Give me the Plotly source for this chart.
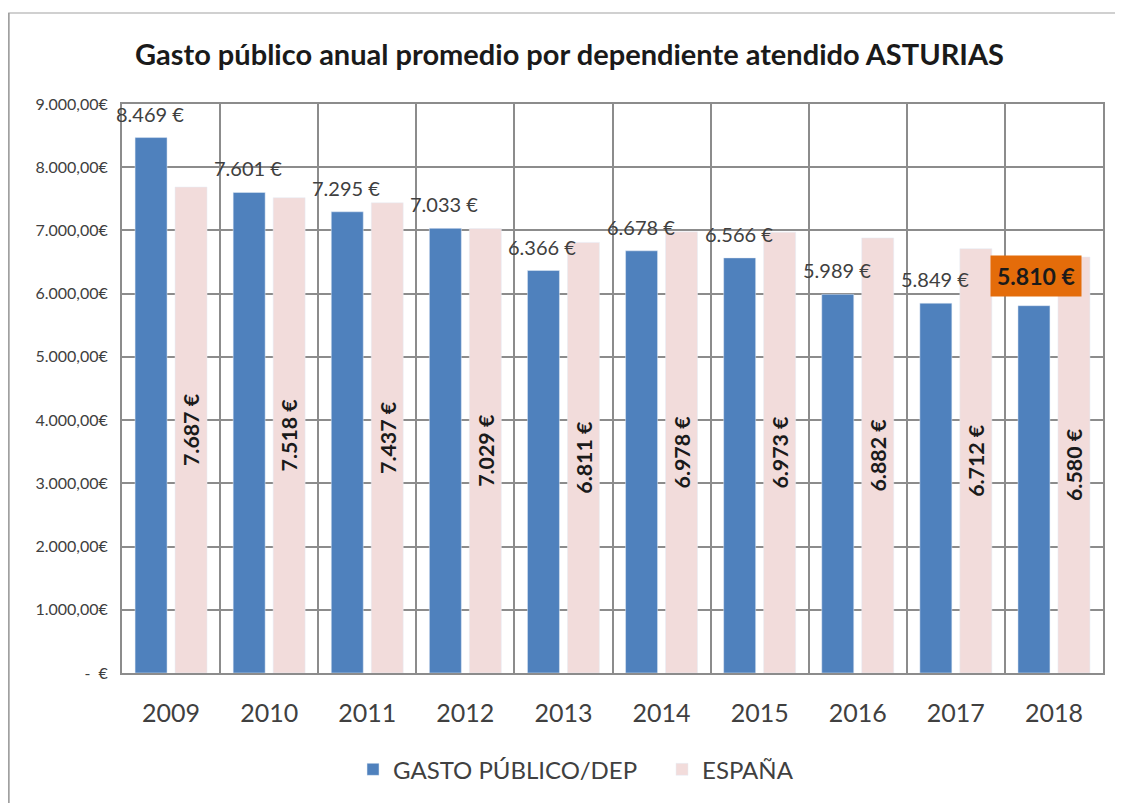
import plotly.graph_objects as go

years = ["2009", "2010", "2011", "2012", "2013", "2014", "2015", "2016", "2017", "2018"]
gasto = [8469, 7601, 7295, 7033, 6366, 6678, 6566, 5989, 5849, 5810]
espana = [7687, 7518, 7437, 7029, 6811, 6978, 6973, 6882, 6712, 6580]
gasto_labels = ["8.469 €", "7.601 €", "7.295 €", "7.033 €", "6.366 €", "6.678 €", "6.566 €", "5.989 €", "5.849 €", "5.810 €"]
espana_labels = ["7.687 €", "7.518 €", "7.437 €", "7.029 €", "6.811 €", "6.978 €", "6.973 €", "6.882 €", "6.712 €", "6.580 €"]
ytick_vals = [0, 1000, 2000, 3000, 4000, 5000, 6000, 7000, 8000, 9000]
ytick_text = ["-  €", "1.000,00€", "2.000,00€", "3.000,00€", "4.000,00€", "5.000,00€",
              "6.000,00€", "7.000,00€", "8.000,00€", "9.000,00€"]

FONT = "Lato"
BLUE = "#4F81BD"
PINK = "#F2DCDB"
GRID = "#8C8C8C"

fig = go.Figure()
fig.add_trace(go.Bar(x=years, y=gasto, name="GASTO PÚBLICO/DEP", marker_color=BLUE))
fig.add_trace(go.Bar(x=years, y=espana, name="ESPAÑA", marker_color=PINK,
                     text=espana_labels, textposition="inside", insidetextanchor="middle",
                     textangle=-90, insidetextfont=dict(family=FONT, size=23, color="#1A1A1A", weight="bold")))

for i, (v, lab) in enumerate(zip(gasto, gasto_labels)):
    if i == len(years) - 1:
        fig.add_annotation(x=i, y=v, text="<b>" + lab + "</b>", showarrow=False,
                           xshift=-18, yshift=30, bgcolor="#E46C0A", borderpad=6,
                           font=dict(family=FONT, size=23, color="#1A1A1A"), xref="x", yref="y")
    else:
        fig.add_annotation(x=i, y=v, text=lab, showarrow=False, xshift=-21, yshift=24,
                           font=dict(family=FONT, size=20, color="#404040"), xref="x", yref="y")

# outer chart frame (top and left edges visible)
fig.add_shape(type="line", xref="paper", yref="paper", x0=-0.116, x1=1.05, y0=1.16, y1=1.16,
              line=dict(color="#D0D0D0", width=2))
fig.add_shape(type="line", xref="paper", yref="paper", x0=-0.116, x1=-0.116, y0=-0.25, y1=1.16,
              line=dict(color="#A0A0A0", width=3))

fig.update_layout(
    width=1123, height=803,
    margin=dict(l=114, r=28, t=96, b=138, autoexpand=False),
    paper_bgcolor="white", plot_bgcolor="white",
    title=dict(text="<b>Gasto público anual promedio por dependiente atendido ASTURIAS</b>",
               x=0.5, xanchor="center", y=0.9415, yanchor="middle",
               font=dict(family=FONT, size=29, color="#1A1A1A")),
    barmode="group", bargap=0.185, bargroupgap=0.2,
    font=dict(family=FONT, color="#404040"),
    legend=dict(orientation="h", x=0.2355, xanchor="left", y=-0.17, yanchor="middle",
                font=dict(family=FONT, size=24, color="#404040"), itemwidth=30,
                entrywidth=264, traceorder="normal"),
    xaxis=dict(type="category", tickson="boundaries", showgrid=True, gridcolor=GRID, gridwidth=2,
               showline=True, linecolor=GRID, linewidth=2, mirror=True, ticks="",
               range=[-0.5, 9.5], automargin=False, tickangle=0,
               tickfont=dict(family=FONT, size=25, color="#404040"), ticklabelstandoff=17),
    yaxis=dict(range=[0, 9000], tickvals=ytick_vals, ticktext=ytick_text, showgrid=True,
               gridcolor=GRID, gridwidth=2, showline=True, linecolor=GRID, linewidth=2, mirror=True,
               automargin=False,
               tickfont=dict(family=FONT, size=16, color="#404040"), ticks="", ticklabelstandoff=9,
               zeroline=False),
)

fig.write_html("out.html")
